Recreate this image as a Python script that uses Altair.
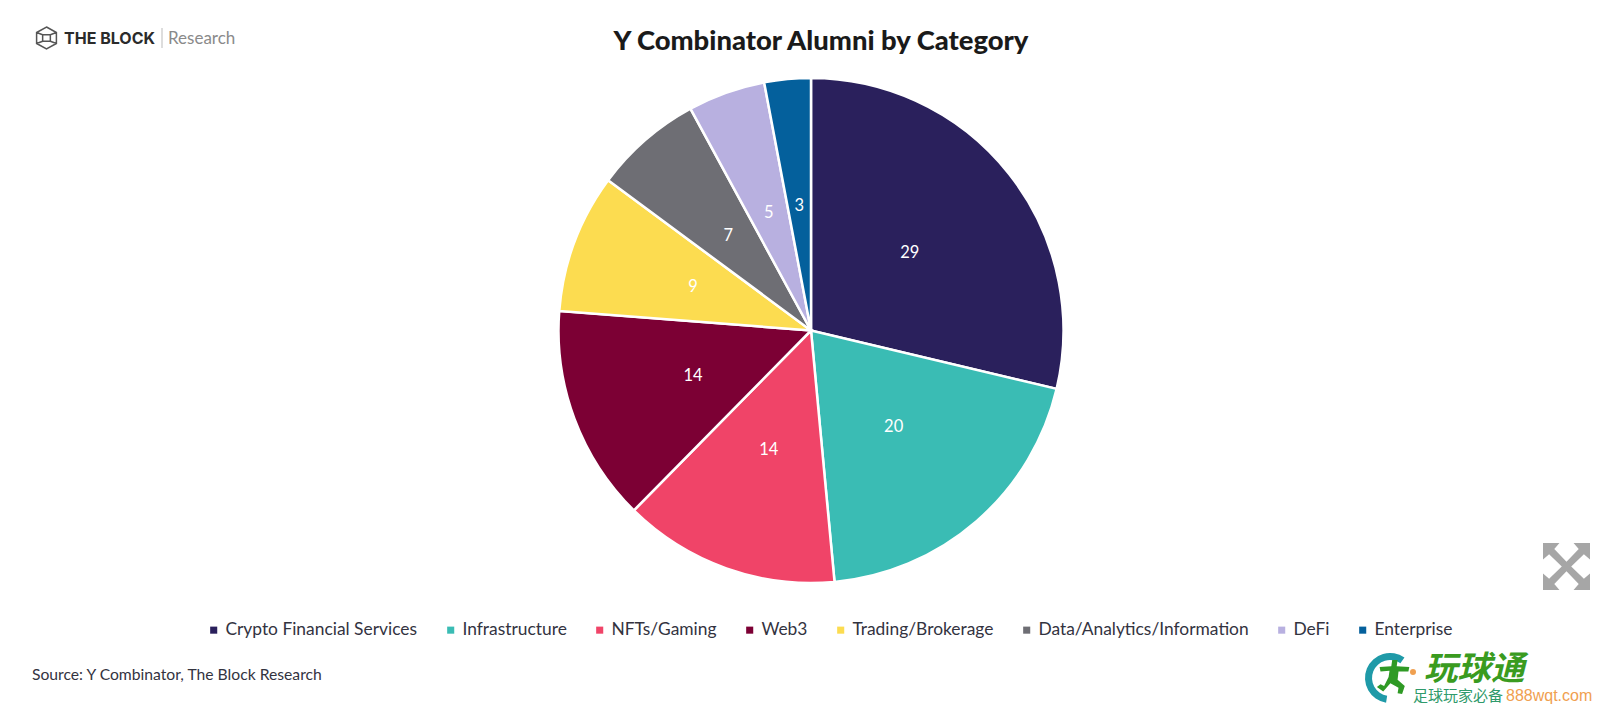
import pandas as pd
import altair as alt

CATEGORIES = ['Crypto Financial Services', 'Infrastructure', 'NFTs/Gaming', 'Web3',
              'Trading/Brokerage', 'Data/Analytics/Information', 'DeFi', 'Enterprise']
VALUES = [29, 20, 14, 14, 9, 7, 5, 3]
COLORS = ['#2a205c', '#3abcb4', '#f04468', '#7c0034', '#fcdc50', '#6e6e74', '#b8b0e0', '#04609c']

TOP = 60          # room kept above the plot for the title
FONT = 'Lato'
CJK = 'Noto Sans CJK SC'

ARROWS = ('M-1,-1 L-0.3,-1 L-0.52,-0.74 L0,-0.2 L0.52,-0.74 L0.3,-1 L1,-1 L1,-0.3 L0.74,-0.52 '
          'L0.2,0 L0.74,0.52 L1,0.3 L1,1 L0.3,1 L0.52,0.74 L0,0.2 L-0.52,0.74 L-0.3,1 L-1,1 '
          'L-1,0.3 L-0.74,0.52 L-0.2,0 L-0.74,-0.52 L-1,-0.3 Z')
HEXAGON = ('M0,-1 L0.9,-0.5 L0.9,0.5 L0,1 L-0.9,0.5 L-0.9,-0.5 Z '
           'M-0.35,-0.3 L0.35,-0.3 L0.35,0.3 L-0.35,0.3 Z '
           'M-0.9,-0.5 L-0.35,-0.3 M0.9,-0.5 L0.35,-0.3 M0.9,0.5 L0.35,0.3 M-0.9,0.5 L-0.35,0.3')
RUNNER = ('M-0.1,-0.95 L0.2,-0.95 L0.15,-0.6 L0.85,-0.55 L0.8,-0.3 L0.25,-0.3 L0.2,0.15 L0.6,0.5 L0.45,0.95 '
          'L0.2,0.9 L0.25,0.6 L-0.2,0.35 L-0.6,0.8 L-0.95,0.55 L-0.75,0.4 L-0.55,0.5 L-0.3,0 L-0.25,-0.35 '
          'L-0.75,-0.3 L-0.8,-0.55 L-0.15,-0.6 Z')

df = pd.DataFrame({'category': CATEGORIES, 'value': VALUES, 'idx': range(len(VALUES))})

CX, CY, R = 803, 322.5 - TOP, 252.5

encode = dict(
    theta=alt.Theta('value:Q', stack=True),
    order=alt.Order('idx:Q'),
    x=alt.value(CX),
    y=alt.value(CY),
)

slices = alt.Chart(df).mark_arc(outerRadius=R, stroke='white', strokeWidth=2.5).encode(
    color=alt.Color(
        'category:N',
        scale=alt.Scale(domain=CATEGORIES, range=COLORS),
        legend=alt.Legend(
            title=None,
            orient='none',
            legendX=197,
            legendY=613 - TOP,
            direction='horizontal',
            columns=8,
            symbolType='square',
            symbolSize=50,
            symbolStrokeWidth=0,
            labelFont=FONT,
            labelFontSize=17.4,
            labelColor='#33333f',
            labelLimit=400,
            columnPadding=24,
            labelOffset=3,
        ),
    ),
    **encode,
)

labels = alt.Chart(df).mark_text(radius=126, dy=1, font=FONT, fontSize=16.5, color='white').encode(
    text='value:Q',
    **encode,
)


def note(text, x, y, font=FONT, **style):
    return alt.Chart(alt.Data(values=[{}])).mark_text(font=font, align='left', baseline='middle', **style).encode(
        x=alt.value(x - 8), y=alt.value(y - 8 - TOP), text=alt.value(text)
    )


def icon(path, x, y, width, **style):
    return alt.Chart(alt.Data(values=[{}])).mark_point(shape=path, size=width ** 2, opacity=1, **style).encode(
        x=alt.value(x - 8), y=alt.value(y - 8 - TOP)
    )


source = note('Source: Y Combinator, The Block Research', 32, 675, fontSize=15.7, color='#33333f')

brand = (
    icon(HEXAGON, 46.5, 38, 22, filled=False, stroke='#555555', strokeWidth=1.5)
    + note('THE BLOCK', 64, 39, font='Inter', fontSize=16, fontWeight='bold', color='#2b2b2b')
    + alt.Chart(alt.Data(values=[{}])).mark_rule(color='#bbbbbb', strokeWidth=1).encode(
        x=alt.value(154), y=alt.value(20 - TOP), y2=alt.value(40 - TOP))
    + note('Research', 168, 39, fontSize=17, color='#8a8a8a')
)

expand = icon(ARROWS, 1566.5, 566.5, 47, filled=True, fill='#a6a6a6', strokeWidth=0)

crescent = alt.Chart(alt.Data(values=[{}])).mark_arc(
    innerRadius=18, outerRadius=25, theta=3.3, theta2=6.9, color='#1f9aa8'
).encode(x=alt.value(1390 - 8), y=alt.value(678 - 8 - TOP))

watermark = (
    crescent
    + icon(RUNNER, 1394, 677, 36, filled=True, fill='#2f9a25', strokeWidth=0)
    + icon('circle', 1413, 672, 6, filled=True, fill='#f0a050', strokeWidth=0)
    + note('玩球通', 1424, 670, font=CJK, fontSize=33.5, fontWeight='bold', fontStyle='italic', color='#3a9b1f')
    + note('足球玩家必备', 1413, 696, font=CJK, fontSize=15, color='#2f9a6b')
    + note('888wqt.com', 1506, 696, font='Liberation Sans', fontSize=16, color='#f0a050')
)

chart = (
    (slices + labels + source + brand + expand + watermark)
    .properties(
        width=1596,
        height=698 - TOP,
        padding={'left': 0, 'top': TOP, 'right': 0, 'bottom': 0},
        autosize=alt.AutoSizeParams(type='none'),
        title=alt.TitleParams(
            text='Y Combinator Alumni by Category',
            font=FONT,
            fontSize=27.4,
            fontWeight=900,
            color='#1a1a1a',
            anchor='middle',
            dx=15,
            dy=38,
            offset=7,
        ),
    )
    .configure_view(stroke=None)
)

chart.save('out.html', embed_options={'renderer': 'svg', 'actions': False})
